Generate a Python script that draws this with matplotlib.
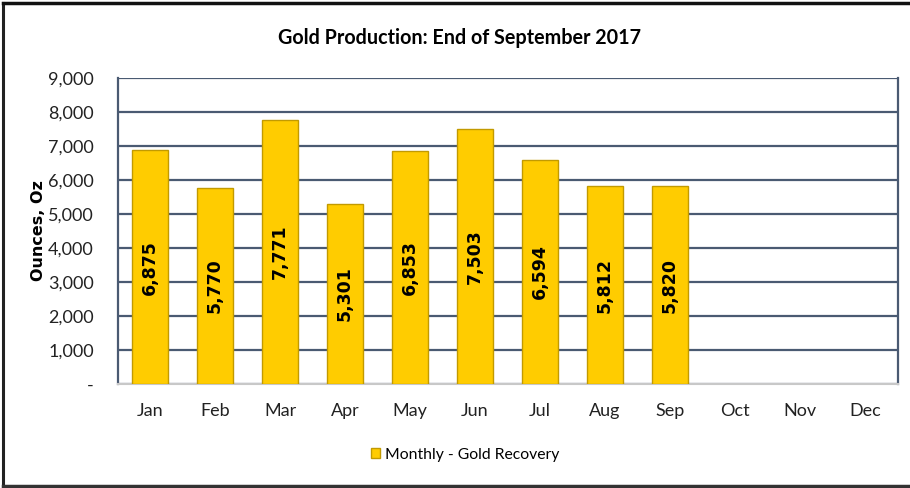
import matplotlib.pyplot as plt
import numpy as np

plt.rcParams['font.family'] = ['Lato', 'DejaVu Sans']

# Dati
months = ['Jan', 'Feb', 'Mar', 'Apr', 'May', 'Jun', 'Jul', 'Aug', 'Sep', 'Oct', 'Nov', 'Dec']
gold_oz = [6875, 5770, 7771, 5301, 6853, 7503, 6594, 5812, 5820]
y_ticks = [0, 1000, 2000, 3000, 4000, 5000, 6000, 7000, 8000, 9000]
y_labels = ['-', '1,000', '2,000', '3,000', '4,000', '5,000', '6,000', '7,000', '8,000', '9,000']

fig = plt.figure(figsize=(9.1, 4.88), dpi=100)
ax = fig.add_axes([117.5 / 910, 104 / 488, 780 / 910, 306 / 488])

grid_col = '#4A5A72'
x = np.arange(len(gold_oz))
ax.bar(x, gold_oz, width=0.55, color='#FFCC00', edgecolor='#C29A00',
       linewidth=1.0, label='Monthly - Gold Recovery', zorder=3)

# Etichette dei valori, verticali al centro della barra
for xi, v in zip(x, gold_oz):
    ax.text(xi, v / 2, f'{v:,}', rotation=90, ha='center', va='center',
            fontsize=12.5, fontweight='bold', family='DejaVu Sans', color='black', zorder=4)

ax.set_xlim(-0.5, len(months) - 0.5)
ax.set_ylim(0, 9000)
ax.set_xticks(range(len(months)))
ax.set_xticklabels(months, fontsize=13, color='#222222')
ax.set_yticks(y_ticks)
ax.set_yticklabels(y_labels, fontsize=13, color='#222222')
ax.tick_params(length=0, pad=14, axis='x')
ax.tick_params(length=0, pad=17, axis='y')

ax.yaxis.grid(True, color=grid_col, linewidth=1.6, zorder=1)
ax.set_axisbelow(True)
for side in ['left', 'right']:
    ax.spines[side].set_color(grid_col)
    ax.spines[side].set_linewidth(1.6)
ax.spines['top'].set_visible(False)
ax.spines['bottom'].set_color('#C8C8C8')
ax.spines['bottom'].set_linewidth(1.5)

ax.set_ylabel('Ounces, Oz', fontsize=11.5, fontweight='bold', family='DejaVu Sans')
ax.yaxis.set_label_coords(-0.092, 0.5)
fig.text(460 / 910, 1 - 38 / 488, 'Gold Production: End of September 2017',
         ha='center', va='center', fontsize=14.2, fontweight='bold')

fig.legend(loc='center', bbox_to_anchor=(465 / 910, 1 - 455 / 488), frameon=False,
           fontsize=11.3, handlelength=0.6, handleheight=0.6, handletextpad=0.3)

# Bordo della figura (sinistra, alto, basso)
fig.add_artist(plt.Line2D([3 / 910, 3 / 910], [2 / 488, 485 / 488], color='#222222', lw=2.2,
                          transform=fig.transFigure))
fig.add_artist(plt.Line2D([3 / 910, 1], [485 / 488, 485 / 488], color='#111111', lw=2.5,
                          transform=fig.transFigure))
fig.add_artist(plt.Line2D([3 / 910, 1], [2 / 488, 2 / 488], color='#333333', lw=2.5,
                          transform=fig.transFigure))

fig.savefig('out.png', dpi=100)
